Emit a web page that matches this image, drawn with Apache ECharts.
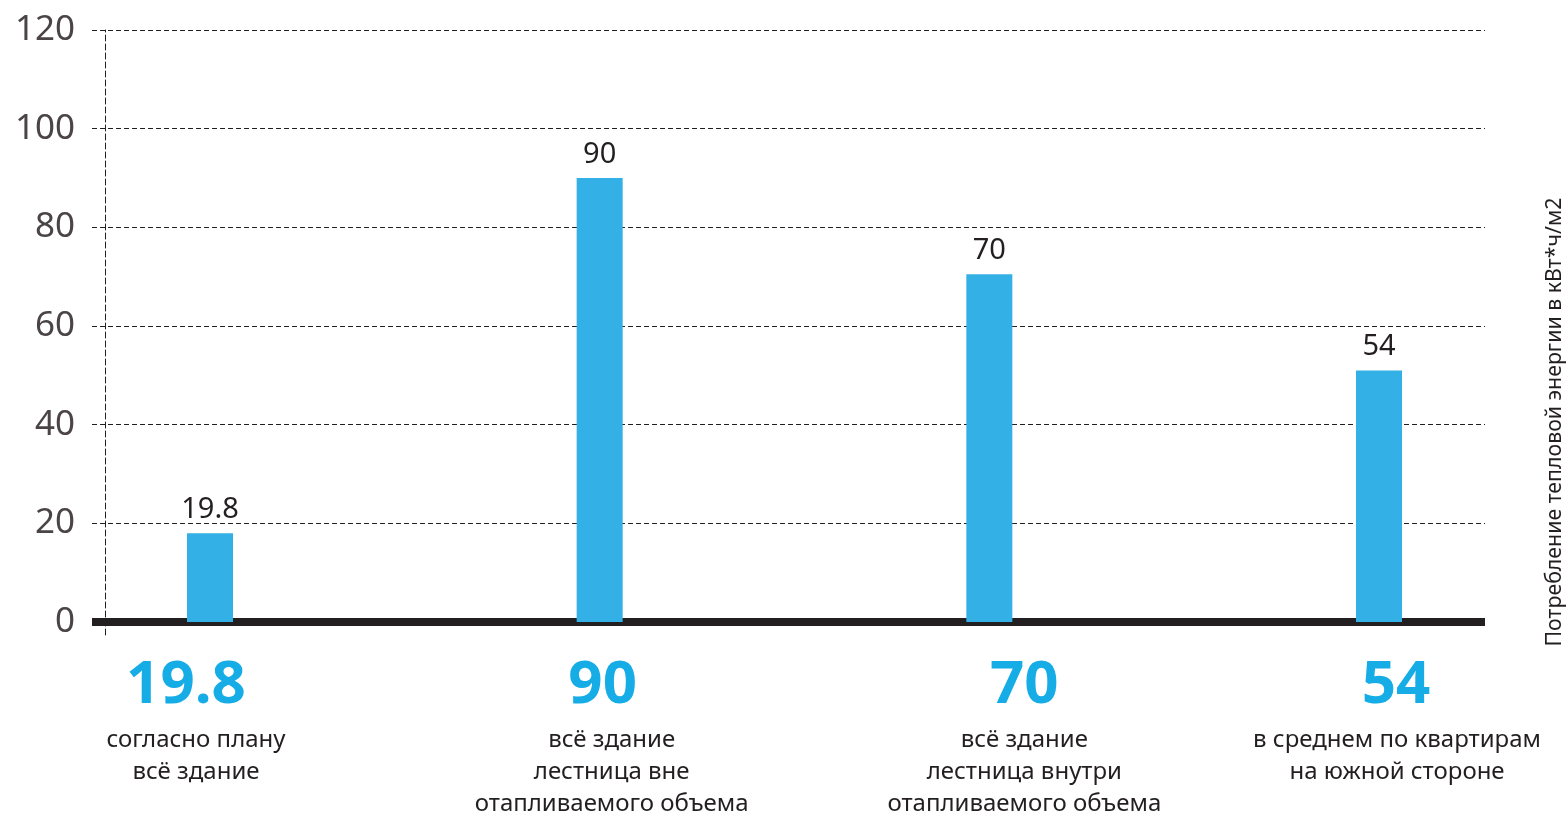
<!DOCTYPE html>
<html>
<head>
<meta charset="utf-8">
<script src="https://cdn.jsdelivr.net/npm/echarts@6/dist/echarts.min.js"></script>
<style>
html,body{margin:0;padding:0;background:#fff;}
#chart{width:1566px;height:816px;}
</style>
</head>
<body>
<div id="chart"></div>
<script>
// ---- data ----
var categories = ['plan', 'outside', 'inside', 'south'];
var barValues = [18, 90, 70.5, 51];
var barLabels = ['19.8', '90', '70', '54'];
var bigNumbers = ['19.8', '90', '70', '54'];
var descriptions = [
  ['согласно плану', 'всё здание'],
  ['всё здание', 'лестница вне', 'отапливаемого объема'],
  ['всё здание', 'лестница внутри', 'отапливаемого объема'],
  ['в среднем по квартирам', 'на южной стороне']
];
var yTicks = [0, 20, 40, 60, 80, 100, 120];
var axisName = 'Потребление тепловой энергии в кВт*ч/м2';

// ---- layout helpers (label offsets relative to bar centres) ----
var numShift = [-24, 3, 35, 17];
var txtShift = [-14, 12, 35, 18];
function pad(d) { return d >= 0 ? [0, 0, 0, 2 * d] : [0, -2 * d, 0, 0]; }

var FONT = '"Noto Sans", "DejaVu Sans", sans-serif';
var BLUE = '#33b0e5';
var INK = '#231f20';

var rich = {};
for (var i = 0; i < categories.length; i++) {
  rich['n' + i] = {fontFamily: FONT, fontSize: 60, fontWeight: 'bold', color: '#16ade6', lineHeight: 76, padding: pad(numShift[i])};
  rich['t' + i] = {fontFamily: FONT, fontSize: 24, color: INK, lineHeight: 32, padding: pad(txtShift[i])};
}

var chart = echarts.init(document.getElementById('chart'));
chart.setOption({
  animation: false,
  backgroundColor: '#ffffff',
  grid: [
    {left: 92, right: 81, top: 30, bottom: 194},          // gridlines / y scale
    {left: 210, right: 187, top: 30, bottom: 194},        // bars
    {left: 105, right: 81, top: 30, bottom: 181},         // vertical dashed line
    {left: 1400, right: 81, top: 197, bottom: 169}        // right-hand name
  ],
  xAxis: [
    {gridIndex: 0, type: 'value', min: 0, max: 1, offset: 5,
      axisLine: {show: true, lineStyle: {color: INK, width: 8, cap: 'butt'}},
      axisTick: {show: false}, axisLabel: {show: false}, splitLine: {show: false}},
    {gridIndex: 1, type: 'category', data: categories, boundaryGap: false,
      axisLine: {show: false}, axisTick: {show: false},
      axisLabel: {
        show: true, interval: 0, margin: 26, rich: rich,
        formatter: function (v, idx) {
          var s = '{n' + idx + '|' + bigNumbers[idx] + '}';
          descriptions[idx].forEach(function (l) { s += '\n{t' + idx + '|' + l + '}'; });
          return s;
        }
      }},
    {gridIndex: 2, type: 'value', show: false, min: 0, max: 1},
    {gridIndex: 3, type: 'value', show: false, min: 0, max: 1}
  ],
  yAxis: [
    {gridIndex: 0, type: 'value', min: 0, max: 120, interval: 20,
      axisLine: {show: false}, axisTick: {show: false},
      axisLabel: {margin: 17, fontFamily: FONT, fontSize: 35, color: '#4a4446',
        formatter: function (v) { return yTicks.indexOf(v) >= 0 ? String(v) : ''; }},
      splitLine: {show: true, lineStyle: {color: INK, width: 1, type: [5, 3]}}},
    {gridIndex: 1, type: 'value', min: 0, max: 120, show: false},
    {gridIndex: 2, type: 'value', min: 0, max: 1,
      axisLine: {show: true, lineStyle: {color: INK, width: 1, type: [6, 3]}},
      axisTick: {show: false}, axisLabel: {show: false}, splitLine: {show: false}},
    {gridIndex: 3, type: 'value', min: 0, max: 1, position: 'right',
      axisLine: {show: false}, axisTick: {show: false}, axisLabel: {show: false}, splitLine: {show: false},
      name: axisName, nameLocation: 'middle', nameRotate: 90, nameGap: 61,
      nameTextStyle: {fontFamily: FONT, fontSize: 21.3, color: INK}}
  ],
  series: [{
    type: 'bar', xAxisIndex: 1, yAxisIndex: 1, data: barValues, barWidth: 46, clip: false,
    itemStyle: {color: BLUE},
    label: {show: true, position: 'top', distance: 9, fontFamily: FONT, fontSize: 29, color: INK,
      formatter: function (p) { return barLabels[p.dataIndex]; }}
  }]
});
</script>
</body>
</html>
